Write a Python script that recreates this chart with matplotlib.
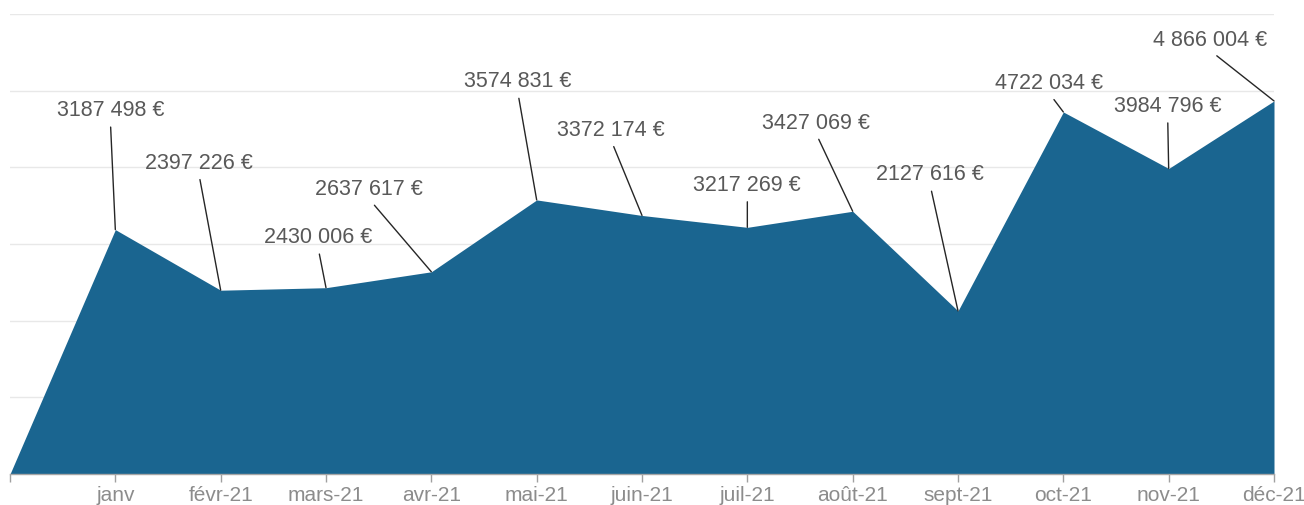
import matplotlib.pyplot as plt

plt.rcParams['font.family'] = ['Liberation Sans', 'DejaVu Sans']

# Data
months = ['', 'janv', 'févr-21', 'mars-21', 'avr-21', 'mai-21', 'juin-21',
          'juil-21', 'août-21', 'sept-21', 'oct-21', 'nov-21', 'déc-21']
values = [0, 3187498, 2397226, 2430006, 2637617, 3574831, 3372174,
          3217269, 3427069, 2127616, 4722034, 3984796, 4866004]
labels = ['', '3187 498 €', '2397 226 €', '2430 006 €', '2637 617 €',
          '3574 831 €', '3372 174 €', '3217 269 €', '3427 069 €',
          '2127 616 €', '4722 034 €', '3984 796 €', '4 866 004 €']

# label offsets in pixels (dx, dy) from the point
offsets = [None, (-5, 120), (-22, 128), (-8, 51), (-62, 83), (-19, 119),
           (-31, 86), (0, 43), (-37, 89), (-28, 137), (-14, 29), (-1, 63),
           (-64, 61)]

fig = plt.figure(figsize=(13.04, 5.06), dpi=100)
ax = fig.add_axes([10 / 1304, 31 / 506, 1264 / 1304, 460 / 506])

x = list(range(len(months)))
ax.fill_between(x, values, 0, color='#1a6590', linewidth=0, zorder=2)

ax.set_xlim(0, len(months) - 1)
ax.set_ylim(0, 6000000)
ax.set_yticks(range(0, 6000001, 1000000))
ax.yaxis.grid(True, color='#e8e8e8', linewidth=1, zorder=0)
ax.set_axisbelow(True)
ax.tick_params(axis='y', left=False, labelleft=False)

ax.set_xticks(x)
ax.set_xticklabels(months)
ax.tick_params(axis='x', colors='#a0a0a0', length=6, width=1, pad=2,
               labelsize=15, labelcolor='#8c8c8c')

for side in ['top', 'right', 'left']:
    ax.spines[side].set_visible(False)
ax.spines['bottom'].set_color('#a6a6a6')
ax.spines['bottom'].set_linewidth(1)
ax.spines['bottom'].set_zorder(3)

for i in range(1, len(months)):
    dx, dy = offsets[i]
    ax.annotate(labels[i], xy=(x[i], values[i]), xytext=(dx, dy),
                textcoords='offset pixels', ha='center', va='center',
                fontsize=15.5, color='#595959', zorder=4,
                arrowprops=dict(arrowstyle='-', color='#262626', lw=1,
                                relpos=(0.5, 0), shrinkA=3, shrinkB=0))

fig.savefig('out.png', dpi=100)
